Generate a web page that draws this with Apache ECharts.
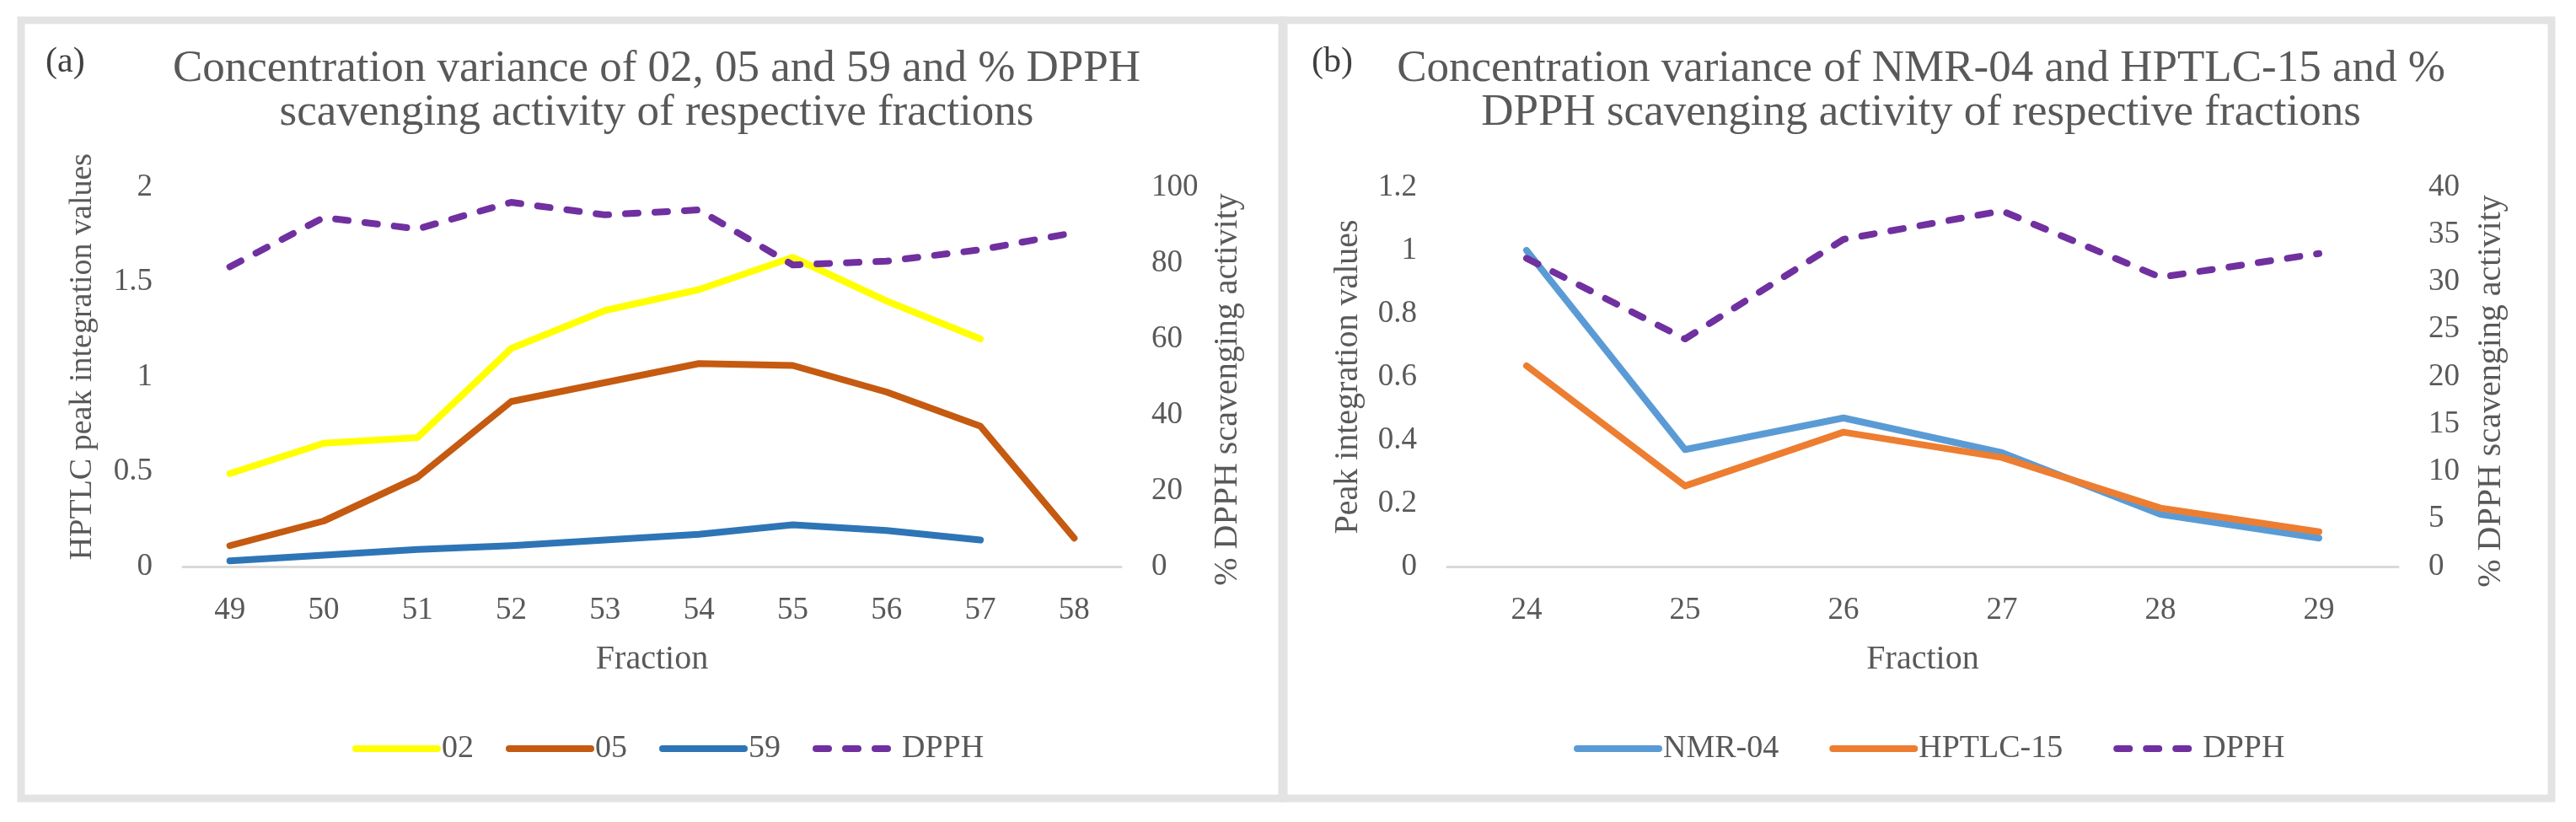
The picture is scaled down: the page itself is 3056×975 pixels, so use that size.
<!DOCTYPE html>
<html>
<head>
<meta charset="utf-8">
<title>Concentration variance and % DPPH scavenging</title>
<script src="https://cdn.jsdelivr.net/npm/echarts@6.0.0/dist/echarts.min.js"></script>
<style>
  html, body { margin: 0; padding: 0; background: #fff; }
  #main { width: 3056px; height: 975px; }
</style>
</head>
<body>
<div id="main"></div>
<script>
// (a) fractions 49-58
var fracA = ['49', '50', '51', '52', '53', '54', '55', '56', '57', '58'];
var s02 = [0.49, 0.65, 0.68, 1.15, 1.35, 1.46, 1.63, 1.40, 1.20, null];
var s05 = [0.11, 0.24, 0.47, 0.87, 0.97, 1.07, 1.06, 0.92, 0.74, 0.15];
var s59 = [0.03, 0.06, 0.09, 0.11, 0.14, 0.17, 0.22, 0.19, 0.14, null];
var dpphA = [79, 92, 89, 96, 92.7, 94, 79.5, 80.5, 83.5, 88];

// (b) fractions 24-29
var fracB = ['24', '25', '26', '27', '28', '29'];
var nmr04 = [1.0, 0.37, 0.47, 0.36, 0.165, 0.09];
var hptlc15 = [0.635, 0.255, 0.425, 0.345, 0.185, 0.11];
var dpphB = [32.5, 24, 34.5, 37.5, 30.5, 33];

var font = '"Liberation Serif", "Times New Roman", serif';
var grey = '#595959';

function yAxis(grid, max, step, pos, name, gap, size, pad) {
    return {
        type: 'value', gridIndex: grid, position: pos,
        min: 0, max: max, interval: step,
        name: name, nameLocation: 'middle', nameGap: gap,
        nameTextStyle: { fontFamily: font, fontSize: size, color: grey, padding: pad },
        axisLine: { show: false },
        axisTick: { show: false },
        splitLine: { show: false },
        axisLabel: {
            fontFamily: font, fontSize: 37, color: grey, margin: 36,
            formatter: function (v) { return String(+v.toFixed(2)); }
        }
    };
}

function xAxis(grid, cats) {
    return {
        type: 'category', gridIndex: grid, data: cats, boundaryGap: true,
        name: 'Fraction', nameLocation: 'middle', nameGap: 90,
        nameTextStyle: { fontFamily: font, fontSize: 40, color: grey },
        axisLine: { lineStyle: { color: '#d9d9d9', width: 3 } },
        axisTick: { show: false },
        axisLabel: { fontFamily: font, fontSize: 37, color: grey, margin: 34 }
    };
}

function line(name, x, y, data, color, dashed) {
    return {
        name: name, type: 'line', xAxisIndex: x, yAxisIndex: y, data: data,
        symbol: 'none', connectNulls: false,
        lineStyle: { color: color, width: 8, cap: 'round', join: 'round', type: dashed ? [15, 20] : 'solid' },
        itemStyle: { color: color }
    };
}

function legend(names, left, gap) {
    return {
        data: names, left: left, top: 864, orient: 'horizontal',
        itemWidth: 97, itemHeight: 10, itemGap: gap,
        itemStyle: { opacity: 0 },
        lineStyle: { width: 8, cap: 'round' },
        textStyle: { fontFamily: font, fontSize: 38, color: grey }
    };
}

function heading(x, txt) {
    return {
        type: 'text', x: x, y: 56,
        style: { text: txt, fontFamily: font, fontSize: 53, fill: grey, align: 'center', verticalAlign: 'top', lineHeight: 52 }
    };
}

var chart = echarts.init(document.getElementById('main'));
var option = {
    animation: false,
    backgroundColor: '#fff',
    graphic: [
        { type: 'rect', shape: { x: 25, y: 24, width: 1496, height: 923 }, style: { fill: 'none', stroke: '#e3e3e3', lineWidth: 9 } },
        { type: 'rect', shape: { x: 1523, y: 24, width: 1504, height: 923 }, style: { fill: 'none', stroke: '#e3e3e3', lineWidth: 9 } },
        { type: 'text', x: 54, y: 74, style: { text: '(a)', fontFamily: font, fontSize: 42, fill: '#404040', verticalAlign: 'middle' } },
        { type: 'text', x: 1556, y: 74, style: { text: '(b)', fontFamily: font, fontSize: 42, fill: '#404040', verticalAlign: 'middle' } },
        heading(779, 'Concentration variance of 02, 05 and 59 and % DPPH\nscavenging activity of respective fractions'),
        heading(2279, 'Concentration variance of NMR-04 and HPTLC-15 and %\nDPPH scavenging activity of respective fractions')
    ],
    grid: [
        { left: 217, right: 3056 - 1330, top: 222, bottom: 975 - 672 },
        { left: 1717, right: 3056 - 2845, top: 222, bottom: 975 - 672 }
    ],
    xAxis: [xAxis(0, fracA), xAxis(1, fracB)],
    yAxis: [
        yAxis(0, 2, 0.5, 'left', 'HPTLC peak integration values', 100, 38, [0, 0, 0, 48]),
        yAxis(0, 100, 20, 'right', '% DPPH scavenging activity', 106, 40, [0, 30, 0, 0]),
        yAxis(1, 1.2, 0.2, 'left', 'Peak integration values', 98, 40, 0),
        yAxis(1, 40, 5, 'right', '% DPPH scavenging activity', 90, 40, [0, 34, 0, 0])
    ],
    legend: [
        legend(['02', '05', '59', 'DPPH'], 413, 38),
        legend(['NMR-04', 'HPTLC-15', 'DPPH '], 1862, 60)
    ],
    series: [
        line('02', 0, 0, s02, '#FFFF00'),
        line('05', 0, 0, s05, '#C55A11'),
        line('59', 0, 0, s59, '#2E75B6'),
        line('DPPH', 0, 1, dpphA, '#7030A0', true),
        line('NMR-04', 1, 2, nmr04, '#5B9BD5'),
        line('HPTLC-15', 1, 2, hptlc15, '#ED7D31'),
        line('DPPH ', 1, 3, dpphB, '#7030A0', true)
    ]
};
chart.setOption(option);
</script>
</body>
</html>
